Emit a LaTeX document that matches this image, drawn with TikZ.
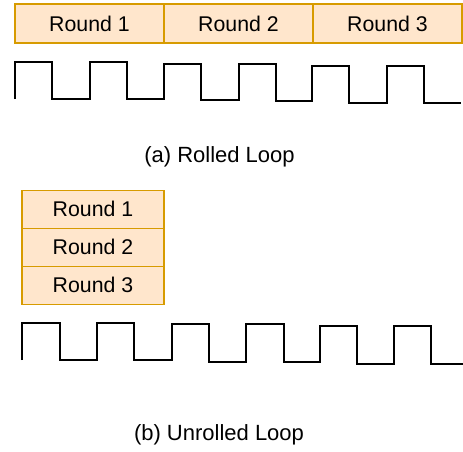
\documentclass[tikz,border=0pt]{standalone}
\usepackage{fontspec}
\setmainfont{Liberation Sans}
\definecolor{boxfill}{HTML}{FFE6CC}
\definecolor{boxline}{HTML}{D79B00}
\begin{document}
\begin{tikzpicture}[x=1pt,y=-1pt,
  roundbox/.style={draw=boxline,fill=boxfill,line width=1.3pt,inner sep=0pt,outer sep=0pt,
    font=\fontsize{21.3}{25}\selectfont},
  wave/.style={line width=1.8pt,line join=miter},
  caption/.style={font=\fontsize{22}{26}\selectfont,inner sep=0pt}]
\useasboundingbox (0,0) rectangle (463,451);
% (a) rolled loop
\node[roundbox,minimum width=149pt,minimum height=39pt] (a1) at (89.5,23.5) {Round 1};
\node[roundbox,minimum width=149pt,minimum height=39pt] (a2) at (238.5,23.5) {Round 2};
\node[roundbox,minimum width=149pt,minimum height=39pt] (a3) at (387.5,23.5) {Round 3};
\draw[wave] (15,99)--(15,62)--(52,62)--(52,99)--(90,99)--(90,62)--(127,62)--(127,99)--(164,99)
  --(164,64)--(201,64)--(201,100)--(239,100)--(239,64)--(276,64)--(276,101)--(312,101)
  --(312,66)--(349,66)--(349,103)--(387,103)--(387,66)--(424,66)--(424,103)--(461,103);
\node[caption] (capa) at (219.5,157) {(a) Rolled Loop};
% (b) unrolled loop
\node[roundbox,minimum width=142pt,minimum height=38pt] (b1) at (93,209.3) {Round 1};
\node[roundbox,minimum width=142pt,minimum height=38pt] (b2) at (93,247.3) {Round 2};
\node[roundbox,minimum width=142pt,minimum height=38pt] (b3) at (93,285.3) {Round 3};
\draw[wave] (22,360)--(22,323)--(60,323)--(60,360)--(97,360)--(97,323)--(134,323)--(134,360)--(172,360)
  --(172,324)--(209,324)--(209,362)--(246,362)--(246,324)--(284,324)--(284,362)--(320,362)
  --(320,326)--(357,326)--(357,364)--(394,364)--(394,326)--(431,326)--(431,364)--(463,364);
\node[caption] (capb) at (219,434.5) {(b) Unrolled Loop};
\end{tikzpicture}
\end{document}
